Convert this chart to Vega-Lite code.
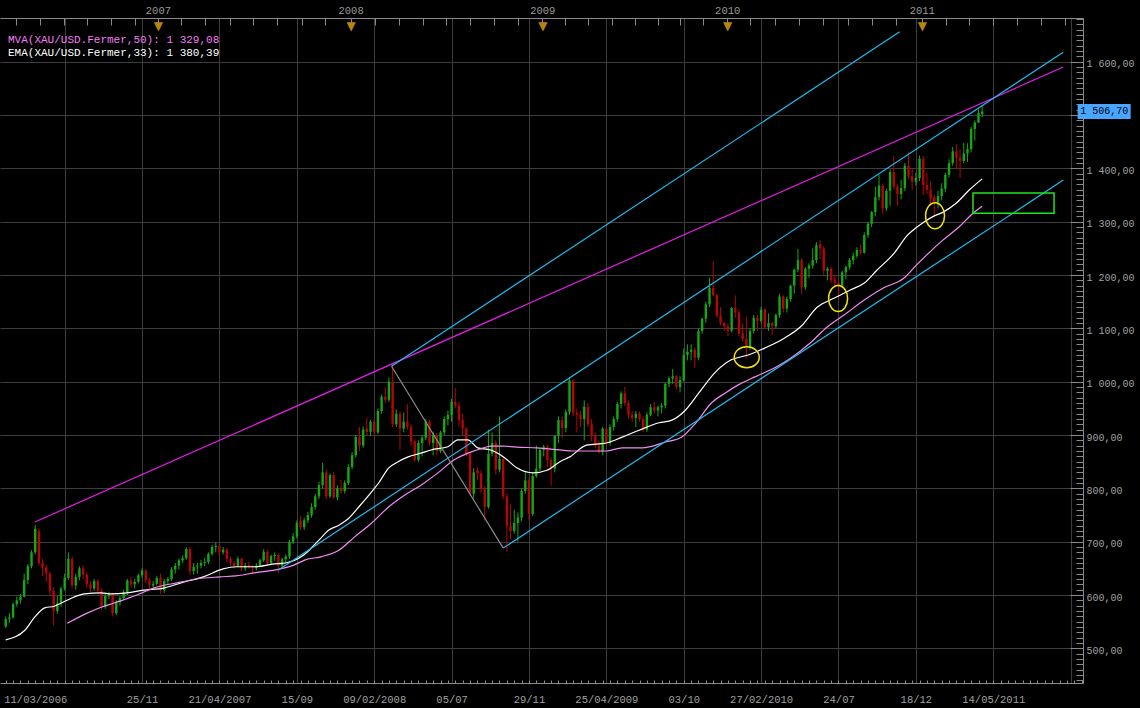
{
"$schema": "https://vega.github.io/schema/vega-lite/v6.json",
"width": 1083, "height": 665,
"autosize": {"type": "none"},
"padding": {"left": 0, "top": 18, "right": 57, "bottom": 25},
"background": "#000000",
"config": {
  "view": {"stroke": null, "fill": "#000000"},
  "axis": {"labelFont": "Liberation Mono", "labelFontSize": 10, "labelColor": "#a0a0a0", "domainColor": "#8a8a8a", "tickColor": "#8a8a8a", "gridColor": "#3d3d3d", "gridWidth": 1, "labelOverlap": false, "title": null}
},
"title": {"text": "MVA(XAU/USD.Fermer,50): 1 329,08", "subtitle": "EMA(XAU/USD.Fermer,33): 1 380,39", "anchor": "start", "frame": "group", "orient": "top", "offset": 0, "dx": 8, "dy": 53, "font": "Liberation Mono", "fontSize": 11, "fontWeight": "normal", "color": "#f47cf4", "subtitleFont": "Liberation Mono", "subtitleFontSize": 11, "subtitleColor": "#ffffff", "subtitlePadding": 2},
"datasets": {
"candles": [
{"i":0,"o":541,"h":560,"l":538,"c":555},{"i":1,"o":555,"h":566,"l":548,"c":558},{"i":2,"o":558,"h":586,"l":556,"c":583},{"i":3,"o":583,"h":597,"l":578,"c":590},{"i":4,"o":590,"h":602,"l":584,"c":597},{"i":5,"o":597,"h":640,"l":595,"c":628},{"i":6,"o":628,"h":658,"l":620,"c":654},{"i":7,"o":654,"h":684,"l":650,"c":680},{"i":8,"o":680,"h":732,"l":676,"c":724},{"i":9,"o":720,"h":724,"l":655,"c":660},
{"i":10,"o":660,"h":668,"l":636,"c":652},{"i":11,"o":652,"h":656,"l":625,"c":640},{"i":12,"o":640,"h":644,"l":598,"c":608},{"i":13,"o":608,"h":614,"l":543,"c":570},{"i":14,"o":570,"h":598,"l":565,"c":584},{"i":15,"o":584,"h":616,"l":578,"c":612},{"i":16,"o":612,"h":640,"l":608,"c":632},{"i":17,"o":632,"h":680,"l":628,"c":668},{"i":18,"o":668,"h":672,"l":612,"c":618},{"i":19,"o":618,"h":640,"l":610,"c":634},
{"i":20,"o":634,"h":654,"l":628,"c":650},{"i":21,"o":650,"h":656,"l":630,"c":638},{"i":22,"o":638,"h":642,"l":614,"c":620},{"i":23,"o":620,"h":626,"l":606,"c":612},{"i":24,"o":612,"h":630,"l":608,"c":626},{"i":25,"o":626,"h":630,"l":604,"c":608},{"i":26,"o":608,"h":612,"l":573,"c":578},{"i":27,"o":578,"h":604,"l":574,"c":598},{"i":28,"o":598,"h":606,"l":592,"c":601},{"i":29,"o":601,"h":604,"l":560,"c":566},
{"i":30,"o":566,"h":590,"l":562,"c":586},{"i":31,"o":586,"h":598,"l":580,"c":594},{"i":32,"o":594,"h":610,"l":590,"c":605},{"i":33,"o":605,"h":630,"l":600,"c":627},{"i":34,"o":627,"h":634,"l":614,"c":620},{"i":35,"o":620,"h":630,"l":612,"c":625},{"i":36,"o":625,"h":640,"l":622,"c":637},{"i":37,"o":637,"h":650,"l":632,"c":646},{"i":38,"o":646,"h":648,"l":622,"c":628},{"i":39,"o":628,"h":632,"l":612,"c":618},
{"i":40,"o":618,"h":626,"l":614,"c":621},{"i":41,"o":621,"h":636,"l":618,"c":632},{"i":42,"o":632,"h":640,"l":602,"c":609},{"i":43,"o":609,"h":630,"l":604,"c":626},{"i":44,"o":626,"h":634,"l":620,"c":630},{"i":45,"o":630,"h":652,"l":626,"c":648},{"i":46,"o":648,"h":660,"l":640,"c":655},{"i":47,"o":655,"h":668,"l":648,"c":665},{"i":48,"o":665,"h":674,"l":660,"c":669},{"i":49,"o":669,"h":690,"l":666,"c":686},
{"i":50,"o":686,"h":690,"l":638,"c":645},{"i":51,"o":645,"h":660,"l":638,"c":653},{"i":52,"o":653,"h":660,"l":640,"c":655},{"i":53,"o":655,"h":666,"l":650,"c":660},{"i":54,"o":660,"h":670,"l":654,"c":662},{"i":55,"o":662,"h":680,"l":658,"c":677},{"i":56,"o":677,"h":694,"l":674,"c":690},{"i":57,"o":690,"h":698,"l":680,"c":692},{"i":58,"o":692,"h":694,"l":672,"c":680},{"i":59,"o":680,"h":690,"l":676,"c":685},
{"i":60,"o":685,"h":688,"l":662,"c":668},{"i":61,"o":668,"h":672,"l":655,"c":660},{"i":62,"o":660,"h":664,"l":650,"c":655},{"i":63,"o":655,"h":672,"l":652,"c":668},{"i":64,"o":668,"h":670,"l":645,"c":650},{"i":65,"o":650,"h":660,"l":645,"c":655},{"i":66,"o":656,"h":662,"l":650,"c":654},{"i":67,"o":654,"h":656,"l":640,"c":650},{"i":68,"o":650,"h":660,"l":646,"c":655},{"i":69,"o":655,"h":668,"l":652,"c":665},
{"i":70,"o":665,"h":686,"l":662,"c":681},{"i":71,"o":681,"h":684,"l":656,"c":660},{"i":72,"o":660,"h":676,"l":658,"c":673},{"i":73,"o":673,"h":680,"l":664,"c":675},{"i":74,"o":675,"h":678,"l":642,"c":655},{"i":75,"o":655,"h":670,"l":652,"c":667},{"i":76,"o":667,"h":676,"l":660,"c":672},{"i":77,"o":672,"h":704,"l":668,"c":700},{"i":78,"o":700,"h":716,"l":696,"c":710},{"i":79,"o":710,"h":740,"l":706,"c":735},
{"i":80,"o":738,"h":748,"l":722,"c":727},{"i":81,"o":727,"h":745,"l":722,"c":740},{"i":82,"o":740,"h":756,"l":735,"c":750},{"i":83,"o":750,"h":772,"l":745,"c":765},{"i":84,"o":765,"h":790,"l":760,"c":785},{"i":85,"o":785,"h":812,"l":780,"c":806},{"i":86,"o":806,"h":848,"l":800,"c":830},{"i":87,"o":830,"h":834,"l":780,"c":785},{"i":88,"o":785,"h":828,"l":782,"c":825},{"i":89,"o":825,"h":830,"l":780,"c":783},
{"i":90,"o":783,"h":806,"l":778,"c":800},{"i":91,"o":800,"h":816,"l":790,"c":795},{"i":92,"o":795,"h":815,"l":790,"c":810},{"i":93,"o":810,"h":845,"l":806,"c":840},{"i":94,"o":840,"h":868,"l":836,"c":862},{"i":95,"o":862,"h":900,"l":858,"c":896},{"i":96,"o":896,"h":915,"l":870,"c":880},{"i":97,"o":880,"h":916,"l":876,"c":910},{"i":98,"o":912,"h":932,"l":900,"c":906},{"i":99,"o":906,"h":928,"l":898,"c":925},
{"i":100,"o":925,"h":930,"l":898,"c":905},{"i":101,"o":905,"h":950,"l":902,"c":945},{"i":102,"o":945,"h":976,"l":940,"c":972},{"i":103,"o":972,"h":990,"l":960,"c":966},{"i":104,"o":966,"h":1008,"l":962,"c":1000},{"i":105,"o":1000,"h":1033,"l":915,"c":920},{"i":106,"o":920,"h":948,"l":915,"c":940},{"i":107,"o":940,"h":944,"l":872,"c":912},{"i":108,"o":912,"h":942,"l":905,"c":925},{"i":109,"o":925,"h":958,"l":910,"c":915},
{"i":110,"o":915,"h":920,"l":880,"c":888},{"i":111,"o":888,"h":892,"l":850,"c":853},{"i":112,"o":853,"h":890,"l":850,"c":885},{"i":113,"o":885,"h":900,"l":860,"c":895},{"i":114,"o":895,"h":930,"l":890,"c":925},{"i":115,"o":925,"h":928,"l":880,"c":885},{"i":116,"o":885,"h":906,"l":862,"c":900},{"i":117,"o":900,"h":904,"l":862,"c":870},{"i":118,"o":870,"h":908,"l":866,"c":905},{"i":119,"o":905,"h":935,"l":900,"c":930},
{"i":120,"o":930,"h":946,"l":918,"c":938},{"i":121,"o":938,"h":968,"l":925,"c":962},{"i":122,"o":962,"h":988,"l":950,"c":955},{"i":123,"o":955,"h":962,"l":916,"c":928},{"i":124,"o":928,"h":940,"l":900,"c":912},{"i":125,"o":912,"h":915,"l":860,"c":865},{"i":126,"o":865,"h":868,"l":786,"c":790},{"i":127,"o":790,"h":838,"l":782,"c":830},{"i":128,"o":834,"h":840,"l":815,"c":828},{"i":129,"o":828,"h":834,"l":792,"c":800},
{"i":130,"o":800,"h":804,"l":740,"c":765},{"i":131,"o":765,"h":910,"l":762,"c":865},{"i":132,"o":865,"h":905,"l":860,"c":885},{"i":133,"o":885,"h":890,"l":826,"c":835},{"i":134,"o":835,"h":935,"l":830,"c":855},{"i":135,"o":855,"h":860,"l":780,"c":785},{"i":136,"o":785,"h":790,"l":681,"c":730},{"i":137,"o":730,"h":770,"l":705,"c":720},{"i":138,"o":720,"h":760,"l":715,"c":735},{"i":139,"o":735,"h":755,"l":700,"c":745},
{"i":140,"o":745,"h":800,"l":738,"c":795},{"i":141,"o":795,"h":830,"l":790,"c":815},{"i":142,"o":815,"h":820,"l":740,"c":752},{"i":143,"o":752,"h":828,"l":748,"c":823},{"i":144,"o":823,"h":880,"l":820,"c":837},{"i":145,"o":837,"h":875,"l":832,"c":872},{"i":146,"o":872,"h":882,"l":860,"c":878},{"i":147,"o":878,"h":882,"l":840,"c":853},{"i":148,"o":853,"h":858,"l":805,"c":837},{"i":149,"o":837,"h":900,"l":830,"c":898},
{"i":150,"o":898,"h":935,"l":885,"c":928},{"i":151,"o":928,"h":935,"l":895,"c":913},{"i":152,"o":913,"h":948,"l":905,"c":943},{"i":153,"o":943,"h":1007,"l":938,"c":1002},{"i":154,"o":1002,"h":1004,"l":935,"c":942},{"i":155,"o":942,"h":950,"l":905,"c":938},{"i":156,"o":938,"h":945,"l":915,"c":930},{"i":157,"o":930,"h":965,"l":890,"c":953},{"i":158,"o":953,"h":960,"l":915,"c":920},{"i":159,"o":920,"h":930,"l":888,"c":898},
{"i":160,"o":898,"h":905,"l":875,"c":880},{"i":161,"o":880,"h":890,"l":865,"c":868},{"i":162,"o":868,"h":915,"l":862,"c":912},{"i":163,"o":912,"h":915,"l":880,"c":885},{"i":164,"o":885,"h":920,"l":880,"c":915},{"i":165,"o":915,"h":935,"l":908,"c":930},{"i":166,"o":930,"h":962,"l":925,"c":958},{"i":167,"o":958,"h":982,"l":950,"c":978},{"i":168,"o":978,"h":990,"l":955,"c":960},{"i":169,"o":960,"h":965,"l":930,"c":938},
{"i":170,"o":938,"h":945,"l":925,"c":932},{"i":171,"o":932,"h":945,"l":915,"c":940},{"i":172,"o":940,"h":944,"l":925,"c":930},{"i":173,"o":930,"h":935,"l":905,"c":910},{"i":174,"o":910,"h":942,"l":906,"c":938},{"i":175,"o":938,"h":958,"l":935,"c":952},{"i":176,"o":952,"h":962,"l":940,"c":946},{"i":177,"o":946,"h":955,"l":935,"c":952},{"i":178,"o":952,"h":960,"l":940,"c":955},{"i":179,"o":955,"h":998,"l":950,"c":996},
{"i":180,"o":996,"h":1010,"l":990,"c":1006},{"i":181,"o":1006,"h":1024,"l":996,"c":1010},{"i":182,"o":1010,"h":1012,"l":985,"c":990},{"i":183,"o":990,"h":1010,"l":980,"c":1003},{"i":184,"o":1003,"h":1062,"l":1000,"c":1050},{"i":185,"o":1050,"h":1070,"l":1040,"c":1056},{"i":186,"o":1056,"h":1070,"l":1040,"c":1060},{"i":187,"o":1060,"h":1064,"l":1026,"c":1045},{"i":188,"o":1045,"h":1100,"l":1040,"c":1095},{"i":189,"o":1095,"h":1120,"l":1090,"c":1118},
{"i":190,"o":1118,"h":1150,"l":1110,"c":1145},{"i":191,"o":1145,"h":1195,"l":1140,"c":1176},{"i":192,"o":1176,"h":1226,"l":1160,"c":1162},{"i":193,"o":1162,"h":1165,"l":1120,"c":1124},{"i":194,"o":1124,"h":1140,"l":1105,"c":1110},{"i":195,"o":1110,"h":1112,"l":1095,"c":1104},{"i":196,"o":1104,"h":1110,"l":1085,"c":1096},{"i":197,"o":1096,"h":1140,"l":1092,"c":1138},{"i":198,"o":1138,"h":1162,"l":1120,"c":1130},{"i":199,"o":1130,"h":1135,"l":1085,"c":1090},
{"i":200,"o":1090,"h":1110,"l":1075,"c":1080},{"i":201,"o":1080,"h":1122,"l":1044,"c":1065},{"i":202,"o":1065,"h":1100,"l":1060,"c":1095},{"i":203,"o":1095,"h":1125,"l":1090,"c":1120},{"i":204,"o":1120,"h":1125,"l":1095,"c":1114},{"i":205,"o":1114,"h":1140,"l":1110,"c":1135},{"i":206,"o":1135,"h":1138,"l":1100,"c":1102},{"i":207,"o":1102,"h":1128,"l":1095,"c":1110},{"i":208,"o":1110,"h":1112,"l":1088,"c":1104},{"i":209,"o":1104,"h":1128,"l":1100,"c":1125},
{"i":210,"o":1125,"h":1165,"l":1120,"c":1160},{"i":211,"o":1160,"h":1162,"l":1130,"c":1137},{"i":212,"o":1137,"h":1160,"l":1130,"c":1155},{"i":213,"o":1155,"h":1182,"l":1150,"c":1180},{"i":214,"o":1180,"h":1212,"l":1165,"c":1210},{"i":215,"o":1210,"h":1249,"l":1205,"c":1228},{"i":216,"o":1228,"h":1232,"l":1165,"c":1177},{"i":217,"o":1177,"h":1215,"l":1172,"c":1212},{"i":218,"o":1212,"h":1222,"l":1195,"c":1218},{"i":219,"o":1218,"h":1250,"l":1212,"c":1228},
{"i":220,"o":1228,"h":1262,"l":1222,"c":1256},{"i":221,"o":1258,"h":1265,"l":1230,"c":1250},{"i":222,"o":1250,"h":1254,"l":1200,"c":1208},{"i":223,"o":1208,"h":1215,"l":1190,"c":1212},{"i":224,"o":1212,"h":1215,"l":1185,"c":1190},{"i":225,"o":1192,"h":1200,"l":1178,"c":1185},{"i":226,"o":1185,"h":1192,"l":1157,"c":1180},{"i":227,"o":1180,"h":1208,"l":1175,"c":1205},{"i":228,"o":1205,"h":1218,"l":1192,"c":1215},{"i":229,"o":1215,"h":1232,"l":1210,"c":1228},
{"i":230,"o":1228,"h":1242,"l":1220,"c":1236},{"i":231,"o":1236,"h":1252,"l":1232,"c":1247},{"i":232,"o":1247,"h":1258,"l":1238,"c":1242},{"i":233,"o":1242,"h":1280,"l":1240,"c":1275},{"i":234,"o":1275,"h":1300,"l":1270,"c":1296},{"i":235,"o":1296,"h":1320,"l":1290,"c":1318},{"i":236,"o":1318,"h":1366,"l":1310,"c":1346},{"i":237,"o":1346,"h":1388,"l":1340,"c":1368},{"i":238,"o":1368,"h":1372,"l":1315,"c":1325},{"i":239,"o":1325,"h":1362,"l":1320,"c":1358},
{"i":240,"o":1358,"h":1398,"l":1330,"c":1393},{"i":241,"o":1393,"h":1424,"l":1360,"c":1366},{"i":242,"o":1366,"h":1370,"l":1330,"c":1352},{"i":243,"o":1352,"h":1378,"l":1342,"c":1363},{"i":244,"o":1363,"h":1410,"l":1358,"c":1405},{"i":245,"o":1405,"h":1431,"l":1380,"c":1385},{"i":246,"o":1385,"h":1400,"l":1360,"c":1375},{"i":247,"o":1375,"h":1392,"l":1368,"c":1382},{"i":248,"o":1382,"h":1424,"l":1376,"c":1418},{"i":249,"o":1418,"h":1423,"l":1350,"c":1369},
{"i":250,"o":1369,"h":1392,"l":1352,"c":1360},{"i":251,"o":1360,"h":1375,"l":1330,"c":1343},{"i":252,"o":1346,"h":1350,"l":1309,"c":1336},{"i":253,"o":1336,"h":1358,"l":1325,"c":1348},{"i":254,"o":1348,"h":1372,"l":1340,"c":1362},{"i":255,"o":1362,"h":1392,"l":1355,"c":1388},{"i":256,"o":1388,"h":1417,"l":1383,"c":1410},{"i":257,"o":1410,"h":1440,"l":1405,"c":1432},{"i":258,"o":1432,"h":1445,"l":1400,"c":1420},{"i":259,"o":1420,"h":1436,"l":1382,"c":1414},
{"i":260,"o":1414,"h":1448,"l":1410,"c":1428},{"i":261,"o":1428,"h":1447,"l":1412,"c":1436},{"i":262,"o":1436,"h":1478,"l":1430,"c":1474},{"i":263,"o":1474,"h":1490,"l":1452,"c":1486},{"i":264,"o":1486,"h":1511,"l":1485,"c":1504},{"i":265,"o":1502,"h":1518,"l":1496,"c":1506.7}
],
"ema": [
{"i":0,"v":516},{"i":5.2,"v":534},{"i":7.9,"v":559},{"i":10.6,"v":576},{"i":13.2,"v":579},{"i":15.1,"v":585},{"i":17.8,"v":594},{"i":21.3,"v":602},{"i":25.9,"v":604},{"i":28.6,"v":602},{"i":32.9,"v":604},{"i":37.4,"v":609},{"i":42.8,"v":613},{"i":48.2,"v":624},{"i":53.6,"v":634},{"i":59,"v":649},{"i":62.5,"v":653},{"i":67.8,"v":653},{"i":72.4,"v":658},{"i":75.9,"v":660},{"i":80.5,"v":673},{"i":85,"v":703},{"i":87.7,"v":722},{"i":90.4,"v":731},{"i":93.1,"v":744},{"i":95.8,"v":765},{"i":98.5,"v":787},{"i":101.2,"v":810},{"i":103.9,"v":838},{"i":106.5,"v":850},{"i":109.2,"v":859},{"i":112.7,"v":866},{"i":115.4,"v":872},{"i":120,"v":878},{"i":122.7,"v":891},{"i":125.4,"v":891},{"i":128.1,"v":876},{"i":131.6,"v":872},{"i":135.1,"v":859},{"i":138.8,"v":838},{"i":143.1,"v":829},{"i":146.9,"v":834},{"i":150.4,"v":850},{"i":153.1,"v":859},{"i":157.6,"v":881},{"i":163,"v":885},{"i":167.3,"v":896},{"i":171.9,"v":909},{"i":177.3,"v":923},{"i":180.8,"v":928},{"i":184.5,"v":947},{"i":188,"v":978},{"i":192.6,"v":1018},{"i":196.9,"v":1041},{"i":201.5,"v":1050},{"i":206,"v":1063},{"i":211.4,"v":1082},{"i":215.7,"v":1103},{"i":220.3,"v":1140},{"i":224.9,"v":1157},{"i":229.2,"v":1172},{"i":233,"v":1185},{"i":236.4,"v":1209},{"i":241,"v":1240},{"i":244.5,"v":1273},{"i":249.1,"v":1299},{"i":252,"v":1311},{"i":254.4,"v":1318},{"i":258,"v":1335},{"i":261.4,"v":1359},{"i":265,"v":1380.39}
],
"mva": [
{"i":16.7,"v":547},{"i":22.1,"v":566},{"i":25.9,"v":577},{"i":29.4,"v":585},{"i":35.6,"v":600},{"i":40.1,"v":613},{"i":47.4,"v":624},{"i":51.7,"v":630},{"i":58.1,"v":634},{"i":62.5,"v":636},{"i":67.8,"v":642},{"i":73.2,"v":647},{"i":77.8,"v":655},{"i":81.3,"v":666},{"i":85.8,"v":672},{"i":90.4,"v":684},{"i":94.7,"v":709},{"i":99.3,"v":735},{"i":103.9,"v":765},{"i":108.2,"v":787},{"i":112.7,"v":806},{"i":117.3,"v":829},{"i":121.6,"v":853},{"i":126.2,"v":868},{"i":129.7,"v":876},{"i":131.6,"v":879},{"i":135.1,"v":879},{"i":139.6,"v":877},{"i":144.2,"v":876},{"i":150.4,"v":872},{"i":153.9,"v":870},{"i":163,"v":870},{"i":167.3,"v":876},{"i":172.7,"v":876},{"i":179.1,"v":887},{"i":183.4,"v":896},{"i":187.2,"v":922},{"i":191.5,"v":960},{"i":195.3,"v":979},{"i":198.8,"v":994},{"i":203.3,"v":1009},{"i":208.7,"v":1026},{"i":213,"v":1044},{"i":218.4,"v":1073},{"i":223,"v":1103},{"i":227.5,"v":1125},{"i":233,"v":1153},{"i":238.3,"v":1176},{"i":243.7,"v":1194},{"i":247.2,"v":1219},{"i":254.4,"v":1266},{"i":258.7,"v":1290},{"i":262.5,"v":1316},{"i":265,"v":1329.08}
],
"lines": [
{"line":"mag","i":7.9,"p":737},{"line":"mag","i":287,"p":1590},
{"line":"cyanUp","i":104.7,"p":1029},{"line":"cyanUp","i":242.6,"p":1656},
{"line":"cyanMid","i":74,"p":647},{"line":"cyanMid","i":287,"p":1618},
{"line":"cyanLow","i":135,"p":688},{"line":"cyanLow","i":287,"p":1378},
{"line":"gray","i":104.7,"p":1029},{"line":"gray","i":135,"p":688}
],
"wideRings": [{"i":201.1,"p":1046}],
"tallRings": [{"i":225.9,"p":1156},{"i":252.2,"p":1311}],
"box": [{"i1":262.5,"i2":284.5,"p1":1316,"p2":1354}],
"last": [{"p":1506.7,"label":"1 506,70"}]
},
"layer": [
{
 "data": {"name": "candles"},
 "mark": {"type": "rule", "strokeWidth": 1},
 "encoding": {
  "x": {"field": "i", "type": "quantitative", "scale": {"domain": [-0.2, 291], "nice": false, "zero": false},
   "axis": {"orient": "bottom", "values": [0,37,58,79,100,121,142,163,184,205,226,247,268], "labelExpr": "datum.value == 0 ? '11/03/2006' : datum.value == 37 ? '25/11' : datum.value == 58 ? '21/04/2007' : datum.value == 79 ? '15/09' : datum.value == 100 ? '09/02/2008' : datum.value == 121 ? '05/07' : datum.value == 142 ? '29/11' : datum.value == 163 ? '25/04/2009' : datum.value == 184 ? '03/10' : datum.value == 205 ? '27/02/2010' : datum.value == 226 ? '24/07' : datum.value == 247 ? '18/12' : datum.value == 268 ? '14/05/2011' : ''", "ticks": false, "grid": false, "domain": true, "labelPadding": 19, "labelBaseline": "alphabetic", "labelFlush": 6, "labelFlushOffset": 2, "labelFontSize": 10.5}},
  "y": {"field": "l", "type": "quantitative", "scale": {"domain": [435, 1682], "nice": false, "zero": false},
   "axis": {"orient": "right", "values": [500,600,700,800,900,1000,1100,1200,1300,1400,1500,1600], "labelExpr": "datum.value == 1500 ? '' : datum.value >= 1000 ? '1 ' + substring(toString(datum.value), 1) + ',00' : toString(datum.value) + ',00'", "tickSize": -13, "labelPadding": 16, "grid": true, "domain": true, "labelBaseline": "alphabetic", "labelOffset": 5}},
  "y2": {"field": "h"},
  "color": {"condition": {"test": "datum.c >= datum.o", "value": "#14a914"}, "value": "#b50606"}
 }
},
{
 "data": {"name": "candles"},
 "mark": {"type": "bar", "width": 2.4},
 "encoding": {
  "x": {"field": "i", "type": "quantitative", "scale": {"domain": [-0.2, 291], "nice": false, "zero": false},
   "axis": {"orient": "bottom", "tickCount": 145, "labels": false, "domain": false, "grid": false, "tickSize": -3}},
  "y": {"field": "o", "type": "quantitative", "scale": {"domain": [435, 1682], "nice": false, "zero": false},
   "axis": {"orient": "right", "tickCount": 125, "labels": false, "domain": false, "grid": false, "tickSize": -7}},
  "y2": {"field": "c"},
  "color": {"condition": {"test": "datum.c >= datum.o", "value": "#14a914"}, "value": "#b50606"}
 }
},
{
 "data": {"name": "ema"},
 "mark": {"type": "line", "color": "#ffffff", "strokeWidth": 1.2, "interpolate": "monotone"},
 "encoding": {
  "x": {"field": "i", "type": "quantitative", "scale": {"domain": [-0.2, 291], "nice": false, "zero": false},
   "axis": {"orient": "bottom", "values": [16,37,58,79,100,121,142,163,184,205,226,247,268,289], "grid": true, "ticks": false, "labels": false, "domain": false}},
  "y": {"field": "v", "type": "quantitative", "scale": {"domain": [435, 1682], "nice": false, "zero": false}, "axis": null}
 }
},
{
 "data": {"name": "mva"},
 "mark": {"type": "line", "color": "#f28cf2", "strokeWidth": 1.2, "interpolate": "monotone"},
 "encoding": {
  "x": {"field": "i", "type": "quantitative", "scale": {"domain": [-0.2, 291], "nice": false, "zero": false},
   "axis": {"orient": "top", "values": [2.7,9.2,15.7,22.0,28.5,35.0,41.3,47.7,54.2,60.8,67.2,73.7,80.5,86.7,93.6,100.2,106.7,113.2,119.6,126.1,132.5,138.9,145.6,151.9,158.0,164.5,170.7,176.9,183.0,189.3,195.8,202.1,208.9,215.4,221.9,228.7,235.2,241.7,248.6,255.1,261.5,268.0,274.5,280.9,287.6], "labelExpr": "datum.value == 41.3 ? '2007' : datum.value == 93.6 ? '2008' : datum.value == 145.6 ? '2009' : datum.value == 195.8 ? '2010' : datum.value == 248.6 ? '2011' : ''", "tickSize": -7, "domain": true, "grid": false, "labelPadding": 12, "labelBaseline": "alphabetic", "labelFontSize": 10.5, "labelColor": "#9a9a9a"}},
  "y": {"field": "v", "type": "quantitative", "scale": {"domain": [435, 1682], "nice": false, "zero": false}, "axis": null}
 }
},
{
 "data": {"name": "lines"},
 "mark": {"type": "line", "strokeWidth": 1.2},
 "encoding": {
  "x": {"field": "i", "type": "quantitative", "scale": {"domain": [-0.2, 291], "nice": false, "zero": false},
   "axis": {"orient": "top", "values": [41.3, 93.6, 145.6, 195.8, 248.6], "labelExpr": "'▼'", "ticks": false, "domain": false, "grid": false, "labelPadding": -7, "labelBaseline": "middle", "labelColor": "#b8860b", "labelFont": "DejaVu Sans", "labelFontSize": 12}},
  "y": {"field": "p", "type": "quantitative", "scale": {"domain": [435, 1682], "nice": false, "zero": false}, "axis": null},
  "color": {"field": "line", "type": "nominal", "scale": {"domain": ["mag","cyanUp","cyanMid","cyanLow","gray"], "range": ["#e61ee6","#1ebcf0","#1ebcf0","#1ebcf0","#8c8c8c"]}, "legend": null}
 }
},
{
 "data": {"name": "wideRings"},
 "mark": {"type": "point", "filled": false, "stroke": "#f2e40a", "strokeWidth": 1.5, "opacity": 1, "size": 625, "shape": "M1,0C1,0.464,0.552,0.84,0,0.84C-0.552,0.84,-1,0.464,-1,0C-1,-0.464,-0.552,-0.84,0,-0.84C0.552,-0.84,1,-0.464,1,0Z"},
 "encoding": {
  "x": {"field": "i", "type": "quantitative", "scale": {"domain": [-0.2, 291], "nice": false, "zero": false}, "axis": null},
  "y": {"field": "p", "type": "quantitative", "scale": {"domain": [435, 1682], "nice": false, "zero": false}, "axis": null}
 }
},
{
 "data": {"name": "tallRings"},
 "mark": {"type": "point", "filled": false, "stroke": "#f2e40a", "strokeWidth": 1.5, "opacity": 1, "size": 676, "shape": "M0.73,0C0.73,0.552,0.403,1,0,1C-0.403,1,-0.73,0.552,-0.73,0C-0.73,-0.552,-0.403,-1,0,-1C0.403,-1,0.73,-0.552,0.73,0Z"},
 "encoding": {
  "x": {"field": "i", "type": "quantitative", "scale": {"domain": [-0.2, 291], "nice": false, "zero": false}, "axis": null},
  "y": {"field": "p", "type": "quantitative", "scale": {"domain": [435, 1682], "nice": false, "zero": false}, "axis": null}
 }
},
{
 "data": {"name": "box"},
 "mark": {"type": "rect", "fill": null, "fillOpacity": 0, "stroke": "#1ee61e", "strokeWidth": 1.5},
 "encoding": {
  "x": {"field": "i1", "type": "quantitative", "scale": {"domain": [-0.2, 291], "nice": false, "zero": false}, "axis": null},
  "x2": {"field": "i2"},
  "y": {"field": "p1", "type": "quantitative", "scale": {"domain": [435, 1682], "nice": false, "zero": false}, "axis": null},
  "y2": {"field": "p2"}
 }
},
{
 "data": {"name": "last"},
 "mark": {"type": "point", "filled": true, "color": "#47a6ff", "opacity": 1, "size": 2809, "shape": "M-1,-0.283L1,-0.283L1,0.283L-1,0.283Z", "clip": false},
 "encoding": {
  "x": {"datum": 298.1, "type": "quantitative", "scale": {"domain": [-0.2, 291], "nice": false, "zero": false}, "axis": null},
  "y": {"field": "p", "type": "quantitative", "scale": {"domain": [435, 1682], "nice": false, "zero": false}, "axis": null}
 }
},
{
 "data": {"name": "last"},
 "mark": {"type": "text", "color": "#000000", "font": "Liberation Mono", "fontSize": 10, "align": "center", "baseline": "middle", "clip": false},
 "encoding": {
  "x": {"datum": 298.1, "type": "quantitative", "scale": {"domain": [-0.2, 291], "nice": false, "zero": false}, "axis": null},
  "y": {"field": "p", "type": "quantitative", "scale": {"domain": [435, 1682], "nice": false, "zero": false}, "axis": null},
  "text": {"field": "label"}
 }
}
],
"resolve": {"axis": {"x": "independent", "y": "independent"}}
}
